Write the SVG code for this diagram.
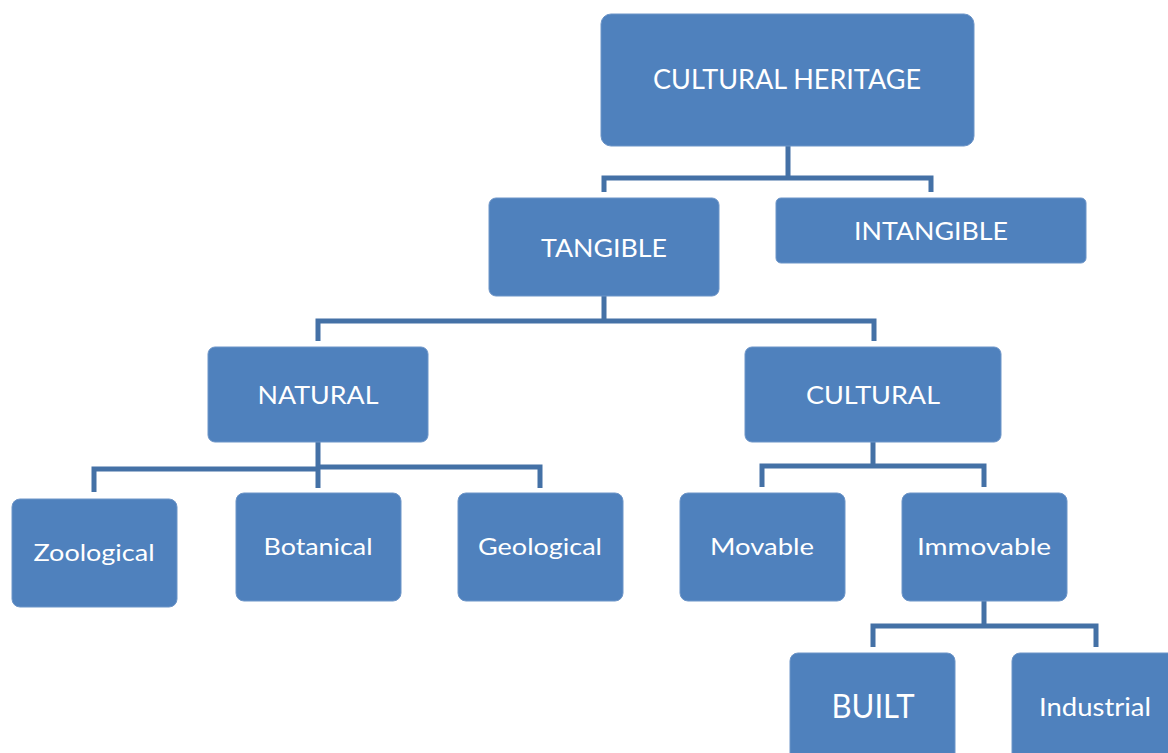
<svg xmlns="http://www.w3.org/2000/svg" width="1168" height="753" viewBox="0 0 1168 753">
<style>
.box{fill:#4f81bd;stroke:#6d95c8;stroke-width:1}
.lbl{fill:#ffffff;font-family:Lato,"Open Sans","Liberation Sans",sans-serif;text-anchor:middle}
.con{fill:none;stroke:#4471a6;stroke-width:5;stroke-linejoin:miter}
</style>
<rect width="1168" height="753" fill="#ffffff"/>
<g id="connectors">
<path class="con" d="M788 146 V178 M604 192 V178 H931 V192"/>
<path class="con" d="M604 296 V321 M318 341 V321 H874 V341"/>
<path class="con" d="M318 442 V488 M94 492 V469 H318 M318 467 H540 V488"/>
<path class="con" d="M873 442 V466 M762 487 V466 H984 V487"/>
<path class="con" d="M984 601 V626 M873 647 V626 H1096 V647"/>
</g>
<g id="n-heritage"><rect class="box" x="601" y="14" width="373" height="132" rx="10"/><text class="lbl" x="787" y="89" font-size="26" textLength="268" lengthAdjust="spacingAndGlyphs">CULTURAL HERITAGE</text></g>
<g id="n-tangible"><rect class="box" x="489" y="198" width="230" height="98" rx="7"/><text class="lbl" x="604" y="257" font-size="25" textLength="126" lengthAdjust="spacingAndGlyphs">TANGIBLE</text></g>
<g id="n-intangible"><rect class="box" x="776" y="198" width="310" height="65" rx="5"/><text class="lbl" x="931" y="240" font-size="25" textLength="154" lengthAdjust="spacingAndGlyphs">INTANGIBLE</text></g>
<g id="n-natural"><rect class="box" x="208" y="347" width="220" height="95" rx="7"/><text class="lbl" x="318" y="404" font-size="25" textLength="121" lengthAdjust="spacingAndGlyphs">NATURAL</text></g>
<g id="n-cultural"><rect class="box" x="745" y="347" width="256" height="95" rx="7"/><text class="lbl" x="873" y="404" font-size="25" textLength="134" lengthAdjust="spacingAndGlyphs">CULTURAL</text></g>
<g id="n-zoological"><rect class="box" x="12" y="499" width="165" height="108" rx="8"/><text class="lbl" x="94" y="561" font-size="24" textLength="121" lengthAdjust="spacingAndGlyphs">Zoological</text></g>
<g id="n-botanical"><rect class="box" x="236" y="493" width="165" height="108" rx="8"/><text class="lbl" x="318" y="555" font-size="24" textLength="109" lengthAdjust="spacingAndGlyphs">Botanical</text></g>
<g id="n-geological"><rect class="box" x="458" y="493" width="165" height="108" rx="8"/><text class="lbl" x="540" y="555" font-size="24" textLength="124" lengthAdjust="spacingAndGlyphs">Geological</text></g>
<g id="n-movable"><rect class="box" x="680" y="493" width="165" height="108" rx="8"/><text class="lbl" x="762" y="555" font-size="24" textLength="104" lengthAdjust="spacingAndGlyphs">Movable</text></g>
<g id="n-immovable"><rect class="box" x="902" y="493" width="165" height="108" rx="8"/><text class="lbl" x="984" y="555" font-size="24" textLength="134" lengthAdjust="spacingAndGlyphs">Immovable</text></g>
<g id="n-built"><rect class="box" x="790" y="653" width="165" height="110" rx="8"/><text class="lbl" x="873" y="718" font-size="32" textLength="83" lengthAdjust="spacingAndGlyphs">BUILT</text></g>
<g id="n-industrial"><rect class="box" x="1012" y="653" width="165" height="110" rx="8"/><text class="lbl" x="1095" y="716" font-size="25" textLength="112" lengthAdjust="spacingAndGlyphs">Industrial</text></g>
</svg>
